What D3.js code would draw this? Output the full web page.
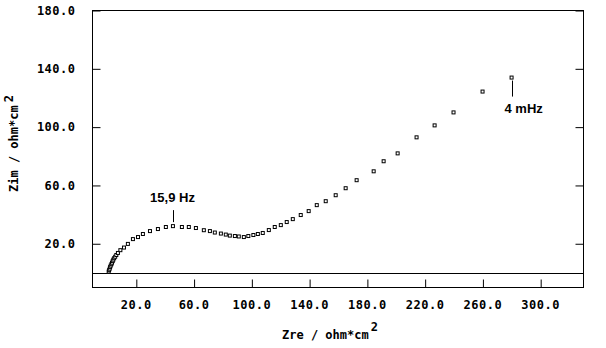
<!DOCTYPE html>
<html>
<head>
<meta charset="utf-8">
<script src="https://cdn.jsdelivr.net/npm/d3@7"></script>
<style>
    html, body { margin: 0; padding: 0; background: #fff; }
    #nyquist-chart { width: 606px; height: 348px; }
</style>
</head>
<body>
<div id="nyquist-chart"></div>
<script>
// Impedance spectrum (Nyquist plot)
const zre = [1.2, 1.5, 1.9, 2.2, 2.6, 3.1, 3.5, 4.0, 4.4, 5.0, 5.7, 6.5, 7.6, 9.3, 11.8, 14.5,
    18.0, 21.5, 24.9, 29.8, 35.3, 40.8, 45.7, 51.9, 56.7, 61.6, 67.1, 71.3, 74.7, 78.9, 82.3,
    85.1, 88.6, 91.3, 94.8, 97.9, 101.4, 104.5, 107.9, 112.1, 116.2, 120.4, 124.5, 128.7,
    134.2, 139.7, 145.3, 151.5, 158.4, 165.3, 172.9, 184.7, 191.6, 201.3, 214.4, 226.9,
    240.0, 260.1, 280.2];
const zim = [0.9, 1.9, 2.9, 4.0, 5.0, 6.0, 7.0, 8.1, 9.1, 10.1, 11.1, 12.3, 13.7, 15.6, 17.4, 19.9,
    23.2, 24.6, 26.7, 28.7, 30.1, 31.5, 32.1, 31.5, 31.5, 30.8, 29.3, 28.7, 27.7, 27.0, 26.3,
    25.6, 25.3, 25.0, 24.6, 25.3, 26.0, 26.7, 27.4, 29.4, 31.5, 32.8, 34.9, 36.9,
    39.7, 42.4, 46.5, 49.2, 53.3, 58.1, 63.6, 69.7, 76.6, 82.0, 93.0, 101.2,
    110.1, 124.4, 134.0];
const xTicks = [20, 60, 100, 140, 180, 220, 260, 300];
const yTicks = [20, 60, 100, 140, 180];
const annotations = [
    { index: 22, label: "15,9 Hz", side: "above" },
    { index: 58, label: "4 mHz", side: "below" }
];

function renderNyquist() {
    const width = 606, height = 348;
    const frame = { left: 92.5, right: 583.5, top: 10.5, bottom: 287.5 };
    const monoFont = "'DejaVu Sans Mono', monospace";

    const svg = d3.select("#nyquist-chart")
        .append("svg")
        .attr("width", width)
        .attr("height", height)
        .style("display", "block");

    const xScale = d3.scaleLinear().domain([-10, 330]).range([frame.left, frame.right]);
    const yScale = d3.scaleLinear().domain([-10, 180]).range([frame.bottom, frame.top]);

    const points = zre.map((x, i) => ({ x: x, y: zim[i] }));

    // Frame
    svg.append("rect")
        .attr("x", frame.left)
        .attr("y", frame.top)
        .attr("width", frame.right - frame.left)
        .attr("height", frame.bottom - frame.top)
        .attr("fill", "none")
        .attr("stroke", "#000")
        .attr("stroke-width", 1);

    // Zero line
    svg.append("line")
        .attr("x1", frame.left)
        .attr("x2", frame.right)
        .attr("y1", Math.round(yScale(0)) + 0.5)
        .attr("y2", Math.round(yScale(0)) + 0.5)
        .attr("stroke", "#000");

    // Bottom axis: ticks point inward, labels below
    const xAxis = svg.append("g")
        .attr("transform", `translate(0,${frame.bottom})`)
        .call(d3.axisBottom(xScale).tickValues(xTicks).tickSizeInner(-8).tickSizeOuter(0)
            .tickPadding(13).tickFormat(d3.format(".1f")));
    xAxis.select(".domain").remove();
    xAxis.selectAll("line").attr("stroke", "#000").attr("transform", "translate(0.5,0)");
    xAxis.selectAll("text")
        .attr("fill", "#000")
        .style("font-family", monoFont)
        .style("font-size", "12px")
        .style("font-weight", "bold")
        .style("letter-spacing", "0.5px");

    // Left axis
    const yAxis = svg.append("g")
        .attr("transform", `translate(${frame.left},0)`)
        .call(d3.axisLeft(yScale).tickValues(yTicks).tickSizeInner(-8).tickSizeOuter(0)
            .tickPadding(17).tickFormat(d3.format(".1f")));
    yAxis.select(".domain").remove();
    yAxis.selectAll("line").attr("stroke", "#000");
    yAxis.selectAll("text")
        .attr("fill", "#000")
        .style("font-family", monoFont)
        .style("font-size", "12px")
        .style("font-weight", "bold")
        .style("letter-spacing", "0.5px");

    // Right axis, ticks only
    const yAxisRight = svg.append("g")
        .attr("transform", `translate(${frame.right},0)`)
        .call(d3.axisRight(yScale).tickValues(yTicks).tickSizeInner(-8).tickSizeOuter(0).tickFormat(""));
    yAxisRight.select(".domain").remove();
    yAxisRight.selectAll("line").attr("stroke", "#000");

    // Axis titles
    const xTitle = svg.append("text")
        .attr("x", 282)
        .attr("y", 339)
        .attr("fill", "#000")
        .style("font-family", monoFont)
        .style("font-size", "12px")
        .style("font-weight", "bold");
    xTitle.append("tspan").text("Zre / ohm*cm");
    xTitle.append("tspan").attr("dx", 2).attr("dy", -8).text("2");

    const yTitle = svg.append("text")
        .attr("transform", "translate(18,192) rotate(-90)")
        .attr("fill", "#000")
        .style("font-family", monoFont)
        .style("font-size", "12px")
        .style("font-weight", "bold");
    yTitle.append("tspan").text("Zim / ohm*cm");
    yTitle.append("tspan").attr("dx", 3).attr("dy", -5).text("2");

    // Data markers: small hollow squares
    svg.selectAll(".dot")
        .data(points)
        .enter()
        .append("rect")
        .attr("class", "dot")
        .attr("x", d => xScale(d.x) - 1.5)
        .attr("y", d => yScale(d.y) - 1.5)
        .attr("width", 3)
        .attr("height", 3)
        .attr("fill", "#fff")
        .attr("stroke", "#000")
        .attr("stroke-width", 1);

    // Frequency annotations
    annotations.forEach(a => {
        const px = Math.round(xScale(zre[a.index])) + 0.5;
        const py = yScale(zim[a.index]);
        const above = a.side === "above";
        svg.append("line")
            .attr("x1", px).attr("x2", px)
            .attr("y1", above ? py - 16 : py + 3)
            .attr("y2", above ? py - 4 : py + 19)
            .attr("stroke", "#000");
        svg.append("text")
            .attr("x", above ? px - 1 : px - 8)
            .attr("y", above ? py - 24 : py + 35)
            .attr("text-anchor", above ? "middle" : "start")
            .attr("fill", "#000")
            .style("font-family", "'Liberation Sans', Arial, sans-serif")
            .style("font-size", "13px")
            .style("font-weight", "bold")
            .text(a.label);
    });
}

renderNyquist();
</script>
</body>
</html>
